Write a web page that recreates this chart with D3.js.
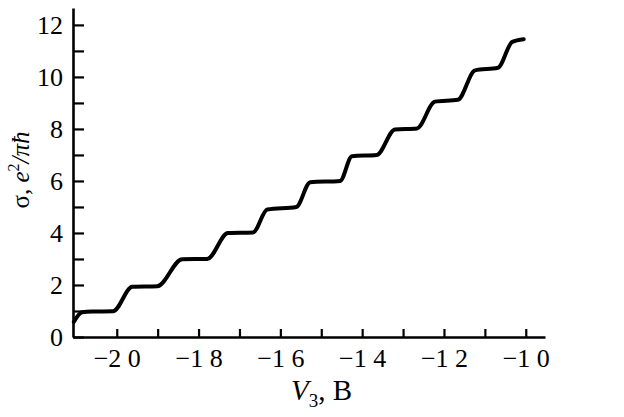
<!DOCTYPE html>
<html>
<head>
<meta charset="utf-8">
<script src="https://cdn.jsdelivr.net/npm/d3@7/dist/d3.min.js"></script>
<style>
  html, body { margin: 0; padding: 0; background: #fff; }
  svg { display: block; }
  text { font-family: "Liberation Serif", "Times New Roman", serif; fill: #000; }
</style>
</head>
<body>
<svg id="chart" width="624" height="417"></svg>
<script>
// ---- data ----
const voltage = [-2.105, -2.085, -2.060, -2.009, -1.962, -1.901, -1.840, -1.779, -1.728, -1.667,
                 -1.632, -1.561, -1.527, -1.454, -1.425, -1.364, -1.320, -1.266, -1.222, -1.166,
                 -1.124, -1.068, -1.033, -1.005];
const sigma   = [0.58, 0.95, 0.98, 0.99, 1.93, 1.95, 2.99, 3.00, 4.00, 4.02,
                 4.90, 5.00, 5.95, 6.00, 6.95, 7.00, 7.98, 8.02, 9.05, 9.12,
                 10.25, 10.35, 11.35, 11.45];
const xTicks = [-2.0, -1.9, -1.8, -1.7, -1.6, -1.5, -1.4, -1.3, -1.2, -1.1, -1.0];
const xTickLabels = ["−2 0", "", "−1 8", "", "−1 6", "", "−1 4", "", "−1 2", "", "−1 0"];
const yTicks = [0, 1, 2, 3, 4, 5, 6, 7, 8, 9, 10, 11, 12];
const yTickLabels = ["0", "", "2", "", "4", "", "6", "", "8", "", "10", "", "12"];

// ---- chart ----
const svg = d3.select("#chart");
const x = d3.scaleLinear().domain([-2.107, -0.953]).range([73, 545]);
const y = d3.scaleLinear().domain([0, 12.65]).range([337, 8]);

const xAxis = d3.axisBottom(x)
  .tickValues(xTicks)
  .tickFormat((d, i) => xTickLabels[i])
  .tickSizeInner(-8).tickSizeOuter(0).tickPadding(12);
const yAxis = d3.axisLeft(y)
  .tickValues(yTicks)
  .tickFormat((d, i) => yTickLabels[i])
  .tickSizeInner(-11).tickSizeOuter(0).tickPadding(10);

const gx = svg.append("g").attr("transform", "translate(0,337)").call(xAxis);
const gy = svg.append("g").attr("transform", "translate(73,0)").call(yAxis);

[gx, gy].forEach(g => {
  g.select(".domain").attr("stroke", "#000").attr("stroke-width", 2.6);
  g.selectAll(".tick line").attr("stroke", "#000").attr("stroke-width", 2.2);
  g.selectAll(".tick text")
    .attr("font-family", "'Liberation Serif', serif")
    .attr("font-size", 26).attr("fill", "#000");
});

// curve
const line = d3.line()
  .x((d, i) => x(voltage[i]))
  .y((d, i) => y(sigma[i]))
  .curve(d3.curveMonotoneX);
svg.append("path")
  .datum(voltage)
  .attr("d", line)
  .attr("fill", "none")
  .attr("stroke", "#000")
  .attr("stroke-width", 4)
  .attr("stroke-linecap", "round");

// y title
const yt = svg.append("text")
  .attr("transform", "translate(29,170) rotate(-90)")
  .attr("text-anchor", "middle")
  .attr("font-size", 25);
yt.append("tspan").text("σ, ");
yt.append("tspan").attr("font-style", "italic").text("e");
yt.append("tspan").attr("font-size", 16).attr("dy", -10).text("2");
yt.append("tspan").attr("font-style", "italic").attr("dy", 10).text("/πħ");

// x title
const xt = svg.append("text")
  .attr("x", 291).attr("y", 400)
  .attr("font-size", 29);
xt.append("tspan").attr("font-style", "italic").text("V");
xt.append("tspan").attr("font-size", 19).attr("dy", 7).text("3");
xt.append("tspan").attr("dy", -7).text(", B");
</script>
</body>
</html>
